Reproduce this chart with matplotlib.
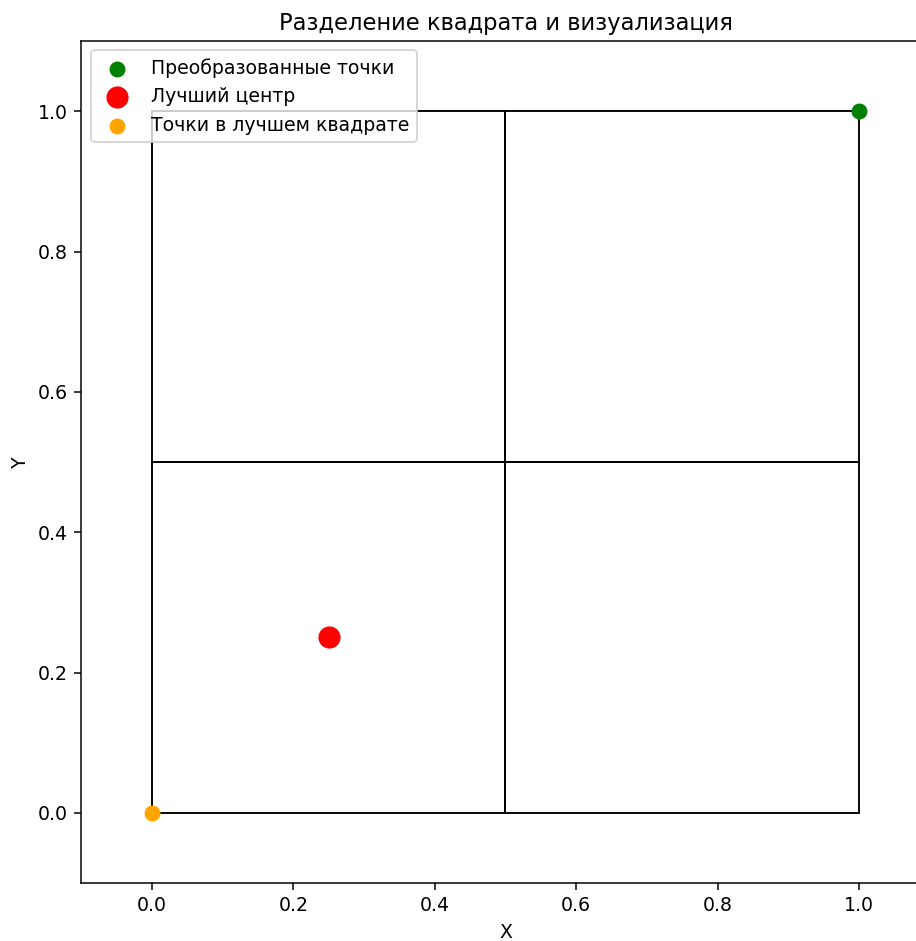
import matplotlib
matplotlib.use("Agg")
import matplotlib.pyplot as plt
from matplotlib.patches import Rectangle

# squares: lower-left corner and side
square_x = [0.0, 0.5, 0.0, 0.5]
square_y = [0.0, 0.0, 0.5, 0.5]
square_size = [0.5, 0.5, 0.5, 0.5]

transformed_x = [1.0]
transformed_y = [1.0]
best_center_x = [0.25]
best_center_y = [0.25]
best_square_x = [0.0]
best_square_y = [0.0]

DPI = 136
fig = plt.figure(figsize=(916 / DPI, 941 / DPI), dpi=DPI)
ax = fig.add_axes([0.0888, 0.0616, 0.926, 0.8948])

for x0, y0, s in zip(square_x, square_y, square_size):
    ax.add_patch(Rectangle((x0, y0), s, s, fill=False, edgecolor="black", linewidth=1))

ax.scatter(transformed_x, transformed_y, c="green", s=55, label="Преобразованные точки", zorder=3)
ax.scatter(best_center_x, best_center_y, c="red", s=115, label="Лучший центр", zorder=3)
ax.scatter(best_square_x, best_square_y, c="orange", s=55, label="Точки в лучшем квадрате", zorder=3)

ax.set_xlim(-0.1, 1.1)
ax.set_ylim(-0.1, 1.1)
ax.set_title("Разделение квадрата и визуализация")
ax.set_xlabel("X")
ax.set_ylabel("Y")
ax.legend(loc="upper left")

fig.savefig("out.png", dpi=DPI)
